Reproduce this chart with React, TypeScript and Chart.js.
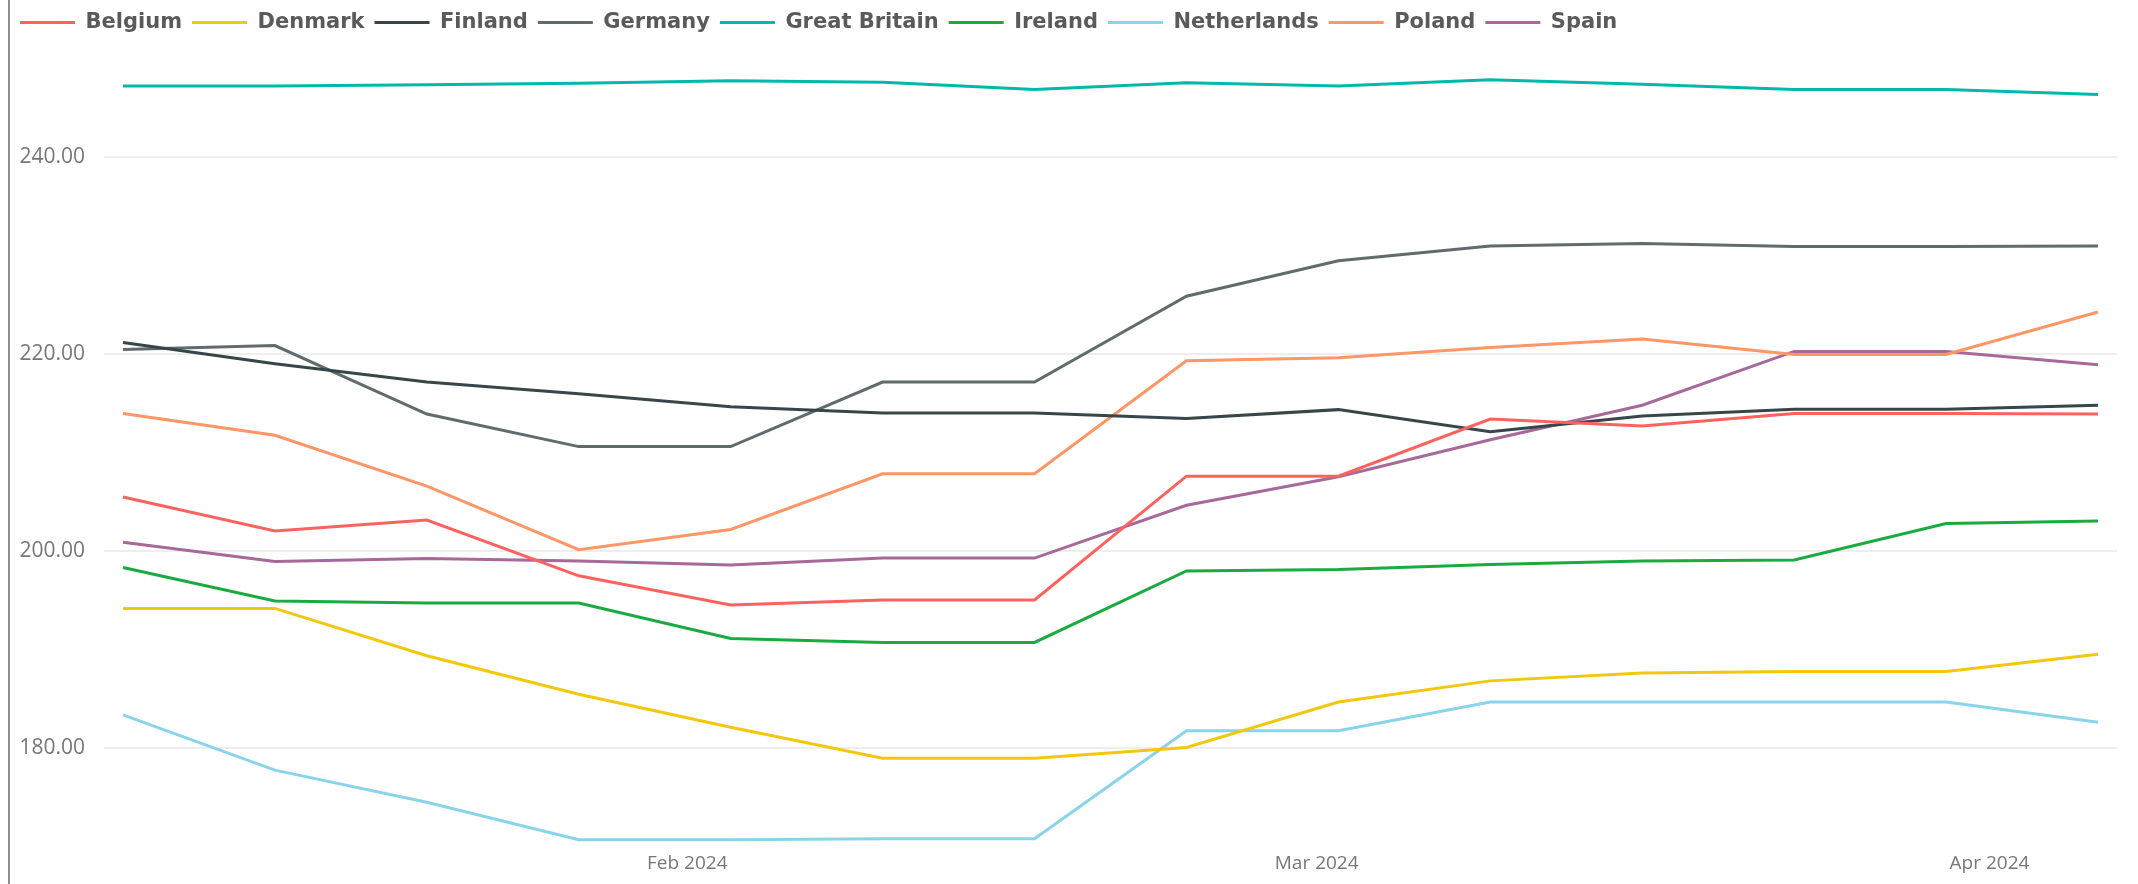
import React, { useEffect, useRef } from "react";
import { Chart, registerables } from "chart.js";

Chart.register(...registerables);

// ---- Data ----
const weekDates = [
  "2024-01-06", "2024-01-13", "2024-01-20", "2024-01-27",
  "2024-02-03", "2024-02-10", "2024-02-17", "2024-02-24",
  "2024-03-02", "2024-03-09", "2024-03-16", "2024-03-23",
  "2024-03-30", "2024-04-06",
];

const countries = [
  "Belgium", "Denmark", "Finland", "Germany", "Great Britain",
  "Ireland", "Netherlands", "Poland", "Spain",
];

const belgium = [205.5, 202.05, 203.15, 197.5, 194.55, 195.05, 195.05, 207.6, 207.6, 213.4, 212.7, 213.95, 213.95, 213.9];
const denmark = [194.2, 194.2, 189.4, 185.5, 182.15, 179.0, 179.0, 180.1, 184.7, 186.85, 187.65, 187.8, 187.8, 189.55];
const finland = [221.15, 219.0, 217.15, 215.95, 214.65, 214.0, 214.0, 213.45, 214.35, 212.1, 213.7, 214.4, 214.4, 214.8];
const germany = [220.45, 220.85, 213.9, 210.6, 210.6, 217.15, 217.15, 225.85, 229.45, 230.95, 231.2, 230.9, 230.9, 230.95];
const greatBritain = [247.15, 247.15, 247.3, 247.45, 247.7, 247.55, 246.8, 247.5, 247.15, 247.8, 247.35, 246.8, 246.8, 246.3];
const ireland = [198.35, 194.95, 194.75, 194.75, 191.15, 190.75, 190.75, 198.0, 198.15, 198.65, 199.0, 199.1, 202.8, 203.05];
const netherlands = [183.4, 177.8, 174.55, 170.75, 170.75, 170.85, 170.85, 181.8, 181.8, 184.7, 184.7, 184.7, 184.7, 182.65];
const poland = [213.95, 211.75, 206.6, 200.15, 202.2, 207.85, 207.85, 219.3, 219.6, 220.65, 221.5, 219.95, 219.95, 224.25];
const spain = [200.9, 198.95, 199.25, 199.0, 198.6, 199.3, 199.3, 204.65, 207.55, 211.3, 214.8, 220.25, 220.25, 218.9];

const seriesValues = [belgium, denmark, finland, germany, greatBritain, ireland, netherlands, poland, spain];

const seriesColors = [
  "#FD625E", "#F2C80F", "#374649", "#5F6B6D", "#01B8AA",
  "#1AAB40", "#8AD4EB", "#FE9666", "#A66999",
];

const monthTickDates = ["2024-02-01", "2024-03-01", "2024-04-01"];
const monthTickLabels = ["Feb 2024", "Mar 2024", "Apr 2024"];
const yTickValues = [180, 200, 220, 240];

// ---- helpers ----
const dayOf = (iso: string) => {
  const [y, m, d] = iso.split("-").map(Number);
  return (Date.UTC(y, m - 1, d) - Date.UTC(y, 0, 1)) / 86400000 + 1;
};

const xMin = dayOf(weekDates[0]) - 0.875;
const xMax = dayOf(weekDates[weekDates.length - 1]) + 0.875;

const tickFont = { family: "'Segoe UI', 'Open Sans', sans-serif", size: 21 };
const tickColor = "#777777";

const legendSpacing = {
  id: "legendSpacing",
  beforeInit(chart: any) {
    const legend = chart.legend;
    if (!legend) return;
    const orig = legend.fit;
    legend.fit = function () {
      orig.call(this);
      this.height += 15;
    };
  },
};

export default function App() {
  const canvasRef = useRef<HTMLCanvasElement | null>(null);

  useEffect(() => {
    if (!canvasRef.current) return;
    const datasets = countries.map((name, i) => ({
      label: name,
      data: seriesValues[i].map((v, j) => ({ x: dayOf(weekDates[j]), y: v })),
      borderColor: seriesColors[i],
      backgroundColor: seriesColors[i],
      borderWidth: 3,
      pointRadius: 0,
      pointHoverRadius: 0,
      tension: 0,
      fill: false,
    }));

    const chart = new Chart(canvasRef.current, {
      type: "line",
      data: { datasets },
      plugins: [legendSpacing],
      options: {
        responsive: false,
        animation: false,
        devicePixelRatio: 1,
        layout: { padding: { left: 10, right: 21, top: 2, bottom: 0 } },
        plugins: {
          tooltip: { enabled: false },
          legend: {
            position: "top",
            align: "start",
            labels: {
              boxWidth: 55,
              boxHeight: 3,
              padding: 10,
              color: "#5a5a5a",
              font: { family: "'DejaVu Sans', sans-serif", weight: "bold", size: 21 },
              generateLabels: (chart: any) =>
                Chart.defaults.plugins.legend.labels
                  .generateLabels(chart)
                  .map((l: any) => ({ ...l, lineWidth: 0 })),
            },
          },
        },
        scales: {
          x: {
            type: "linear",
            min: xMin,
            max: xMax,
            grid: { display: false, drawTicks: false },
            border: { display: false },
            afterBuildTicks: (scale: any) => {
              scale.ticks = monthTickDates.map((d) => ({ value: dayOf(d) }));
            },
            afterFit: (scale: any) => {
              scale.height = 32;
            },
            ticks: {
              autoSkip: false,
              maxRotation: 0,
              padding: 0,
              color: tickColor,
              font: { ...tickFont, size: 19 },
              callback: (v: any) => {
                const idx = monthTickDates.findIndex((d) => dayOf(d) === Number(v));
                return idx >= 0 ? monthTickLabels[idx] : "";
              },
            },
          },
          y: {
            type: "linear",
            min: 169.5,
            max: 250,
            grid: { color: "#EEEEEE", lineWidth: 2, drawTicks: false },
            border: { display: false },
            afterBuildTicks: (scale: any) => {
              scale.ticks = yTickValues.map((v) => ({ value: v }));
            },
            afterFit: (scale: any) => {
              scale.width = 94;
            },
            ticks: {
              padding: 19,
              color: tickColor,
              font: tickFont,
              callback: (v: any) => Number(v).toFixed(2),
            },
          },
        },
      },
    } as any);

    return () => chart.destroy();
  }, []);

  return (
    <div style={{ position: "fixed", left: 0, top: 0, width: 2138, height: 884, background: "#ffffff" }}>
      <canvas ref={canvasRef} width={2138} height={884} style={{ display: "block" }} />
      <div style={{ position: "absolute", left: 8, top: 0, width: 2, height: 884, background: "#8f8f8f" }} />
    </div>
  );
}
